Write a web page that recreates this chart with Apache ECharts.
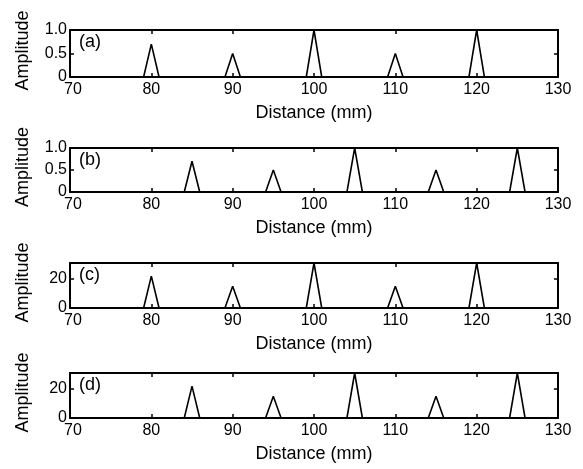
<!DOCTYPE html>
<html>
<head>
<meta charset="utf-8">
<script src="https://cdn.jsdelivr.net/npm/echarts@6/dist/echarts.min.js"></script>
<style>
  html, body { margin: 0; padding: 0; background: #fff; }
  #chart { width: 583px; height: 469px; }
</style>
</head>
<body>
<div id="chart"></div>
<script>
  // peak outlines, distance in mm
  var distanceA = [70, 79.05, 80, 80.95, 89.05, 90, 90.95, 99.05, 100, 100.95, 109.05, 110, 110.95, 119.05, 120, 120.95, 130];
  var amplitudeA = [0, 0, 0.7, 0, 0, 0.5, 0, 0, 1.0, 0, 0, 0.5, 0, 0, 1.0, 0, 0];
  var distanceB = [70, 84.05, 85, 85.95, 94.05, 95, 95.95, 104.05, 105, 105.95, 114.05, 115, 115.95, 124.05, 125, 125.95, 130];
  var amplitudeB = [0, 0, 0.7, 0, 0, 0.5, 0, 0, 1.0, 0, 0, 0.5, 0, 0, 1.0, 0, 0];
  var distanceC = [70, 79.05, 80, 80.95, 89.05, 90, 90.95, 99.05, 100, 100.95, 109.05, 110, 110.95, 119.05, 120, 120.95, 130];
  var amplitudeC = [0, 0, 22, 0, 0, 15, 0, 0, 31, 0, 0, 15, 0, 0, 31, 0, 0];
  var distanceD = [70, 84.05, 85, 85.95, 94.05, 95, 95.95, 104.05, 105, 105.95, 114.05, 115, 115.95, 124.05, 125, 125.95, 130];
  var amplitudeD = [0, 0, 22, 0, 0, 15, 0, 0, 31, 0, 0, 15, 0, 0, 31, 0, 0];

  var panelLabels = ['(a)', '(b)', '(c)', '(d)'];
  var xLabel = 'Distance (mm)';
  var yLabel = 'Amplitude';

  var panels = [
    { x: distanceA, y: amplitudeA, top: 30, height: 47, max: 1, interval: 0.5 },
    { x: distanceB, y: amplitudeB, top: 148, height: 44, max: 1, interval: 0.5 },
    { x: distanceC, y: amplitudeC, top: 263, height: 45, max: 31, interval: 20 },
    { x: distanceD, y: amplitudeD, top: 373, height: 45, max: 31, interval: 20 }
  ];

  var font = 'Liberation Sans, Arial, sans-serif';
  var frame = { show: true, onZero: false, lineStyle: { color: '#000', width: 2 } };
  var tickIn = { show: true, inside: true, length: 4, lineStyle: { color: '#000', width: 1.5 } };

  var grid = [], xAxis = [], yAxis = [], series = [], graphic = [];
  panels.forEach(function (p, i) {
    grid.push({ left: 70, right: 25, top: p.top, height: p.height });
    xAxis.push({
      type: 'value', gridIndex: i, min: 70, max: 130, interval: 10, position: 'bottom',
      axisLine: frame, axisTick: tickIn, splitLine: { show: false },
      axisLabel: {
        color: '#000', fontSize: 16, fontFamily: font, margin: 5,
        formatter: function (v) { return v === 70 ? '{first|70}' : String(v); },
        rich: { first: { color: '#000', fontSize: 16, fontFamily: font, padding: [0, 0, 0, 6] } }
      },
      name: xLabel, nameLocation: 'middle', nameGap: 27,
      nameTextStyle: { color: '#000', fontSize: 18, fontFamily: font }
    });
    xAxis.push({
      type: 'value', gridIndex: i, min: 70, max: 130, interval: 10, position: 'top',
      axisLine: frame, axisTick: tickIn, axisLabel: { show: false }, splitLine: { show: false }
    });
    var fmt = p.max === 1
      ? function (v) { return v === 0 ? '0' : v.toFixed(1); }
      : function (v) { return String(v); };
    yAxis.push({
      type: 'value', gridIndex: i, min: 0, max: p.max, interval: p.interval, position: 'left',
      axisLine: frame, axisTick: tickIn, splitLine: { show: false },
      axisLabel: { color: '#000', fontSize: 16, fontFamily: font, margin: 3, formatter: fmt,
        showMaxLabel: p.max === 1 },
      name: yLabel, nameLocation: 'middle', nameGap: 38, nameRotate: 90,
      nameTextStyle: { color: '#000', fontSize: 18, fontFamily: font, padding: [0, 0, 0, 6] }
    });
    yAxis.push({
      type: 'value', gridIndex: i, min: 0, max: p.max, interval: p.interval, position: 'right',
      axisLine: frame, axisTick: tickIn, axisLabel: { show: false }, splitLine: { show: false }
    });
    series.push({
      type: 'line', xAxisIndex: i * 2, yAxisIndex: i * 2, symbol: 'none', silent: true,
      lineStyle: { color: '#000', width: 1.6 }, animation: false,
      data: p.x.map(function (d, k) { return [d, p.y[k]]; })
    });
    graphic.push({
      type: 'text', left: 79, top: p.top + 3,
      style: { text: panelLabels[i], fill: '#000', fontSize: 18, fontFamily: font }
    });
  });

  var chart = echarts.init(document.getElementById('chart'));
  chart.setOption({
    animation: false,
    backgroundColor: '#fff',
    grid: grid, xAxis: xAxis, yAxis: yAxis, series: series, graphic: graphic
  });
  window.addEventListener('resize', function () { chart.resize(); });
</script>
</body>
</html>
